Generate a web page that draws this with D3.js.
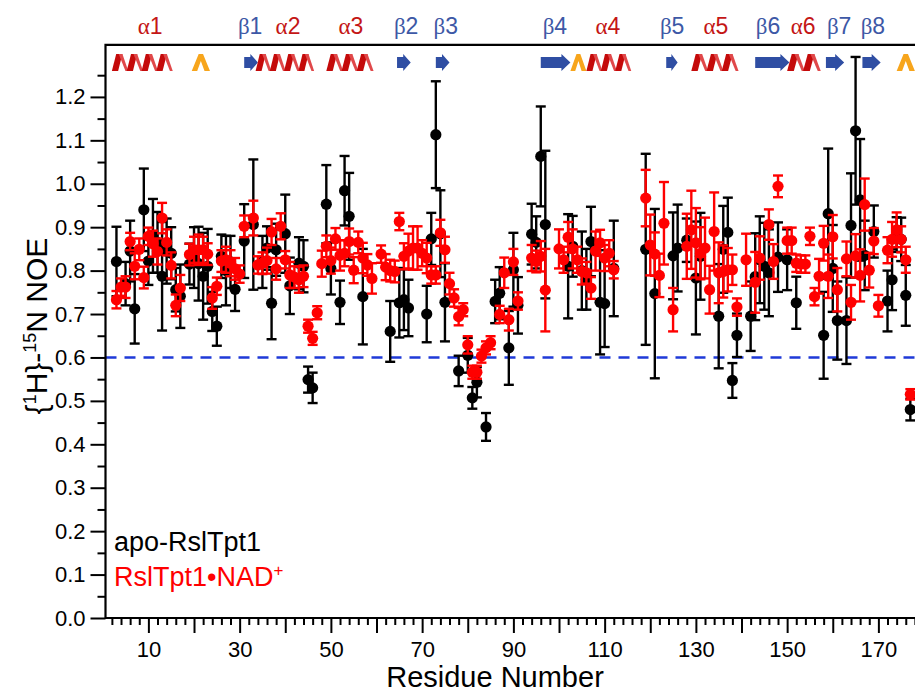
<!DOCTYPE html>
<html>
<head>
<meta charset="utf-8">
<script src="https://cdn.jsdelivr.net/npm/d3@7"></script>
<style>
  body { margin: 0; background: #fff; }
  svg { display: block; }
</style>
</head>
<body>
<svg id="chart" width="915" height="693"></svg>
<script>
// ---- {1H}-15N heteronuclear NOE per residue ----
// apo-RslTpt1
const apoRes = [
  3, 5, 6, 7, 9, 10, 11, 12, 13, 14,
  15, 16, 17, 19, 20, 21, 22, 23, 24, 25,
  26, 27, 28, 29, 31, 33, 35, 36, 37, 38,
  40, 41, 43, 44, 45, 46, 49, 50, 52, 53,
  54, 57, 63, 65, 66, 67, 71, 72, 73, 74,
  75, 78, 80, 81, 82, 84, 86, 87, 89, 90,
  91, 94, 95, 96, 97, 102, 103, 105, 106, 107,
  109, 110, 112, 119, 121, 125, 126, 128, 130, 131,
  135, 136, 137, 138, 139, 142, 143, 144, 145, 146,
  148, 150, 152, 158, 159, 160, 161, 163, 164, 165,
  166, 167, 169, 172, 173, 174, 175, 176, 177
];
const apoNOE = [
  .821, .770, .845, .712, .940, .822, .880, .865, .787, .845,
  .840, .756, .741, .815, .830, .816, .787, .810, .706, .672,
  .833, .800, .820, .757, .868, .906, .820, .852, .725, .848,
  .885, .765, .817, .810, .549, .530, .953, .805, .727, .984,
  .925, .740, .660, .726, .733, .714, .700, .873, 1.113, .885,
  .727, .569, .605, .507, .543, .440, .729, .748, .622, .802,
  .720, .884, .865, 1.063, .906, .810, .856, .800, .780, .867,
  .727, .724, .805, .849, .747, .834, .852, .870, .783, .833,
  .695, .849, .888, .547, .651, .695, .786, .825, .810, .795,
  .831, .825, .726, .651, .931, .805, .685, .685, .904, 1.122,
  .963, .835, .890, .730, .779, .883, .872, .743, .480
];
const apoErr = [
  .080, .050, .070, .080, .095, .055, .085, .070, .125, .075,
  .060, .050, .073, .047, .070, .085, .100, .086, .045, .045,
  .050, .080, .060, .050, .085, .150, .060, .050, .083, .060,
  .090, .065, .060, .060, .030, .035, .090, .060, .050, .080,
  .100, .110, .070, .080, .070, .065, .065, .060, .123, .100,
  .090, .035, .040, .025, .035, .032, .050, .060, .085, .085,
  .065, .070, .060, .115, .170, .120, .070, .090, .070, .080,
  .120, .100, .110, .220, .195, .100, .100, .050, .130, .100,
  .120, .100, .080, .040, .050, .080, .100, .100, .100, .100,
  .080, .070, .060, .100, .150, .100, .090, .100, .120, .170,
  .140, .080, .060, .070, .070, .040, .050, .070, .025
];

// RslTpt1•NAD+
const nadRes = [
  3, 4, 5, 6, 7, 8, 9, 10, 11, 12,
  13, 14, 15, 16, 17, 19, 20, 21, 22, 23,
  24, 25, 26, 27, 28, 29, 30, 31, 33, 34,
  35, 36, 37, 38, 39, 40, 41, 42, 43, 44,
  45, 46, 47, 48, 49, 50, 51, 52, 53, 54,
  55, 56, 57, 58, 59, 61, 62, 63, 64, 65,
  66, 67, 68, 69, 70, 71, 72, 73, 74, 75,
  76, 77, 78, 79, 80, 81, 82, 83, 84, 85,
  87, 88, 89, 90, 91, 94, 95, 96, 97, 100,
  101, 102, 103, 104, 105, 106, 107, 108, 109, 110,
  111, 112, 119, 120, 121, 122, 123, 125, 128, 129,
  130, 131, 132, 133, 134, 135, 136, 137, 138, 139,
  141, 143, 144, 146, 147, 148, 150, 151, 152, 153,
  154, 155, 156, 157, 158, 159, 160, 161, 163, 164,
  165, 166, 167, 168, 169, 170, 172, 173, 174, 175,
  176, 177
];
const nadNOE = [
  .733, .762, .762, .867, .810, .849, .784, .879, .862, .844,
  .921, .865, .812, .720, .760, .837, .848, .848, .848, .838,
  .737, .764, .822, .825, .817, .804, .792, .902, .921, .813,
  .817, .823, .889, .804, .902, .825, .790, .785, .779, .787,
  .672, .644, .703, .816, .856, .823, .873, .835, .840, .867,
  .801, .865, .829, .813, .782, .838, .808, .800, .798, .913,
  .833, .845, .852, .852, .840, .829, .790, .790, .887, .848,
  .770, .737, .694, .710, .629, .566, .566, .603, .622, .634,
  .699, .795, .687, .820, .730, .829, .821, .833, .755, .850,
  .825, .877, .850, .825, .798, .795, .760, .845, .864, .829,
  .840, .802, .967, .859, .838, .789, .909, .710, .856, .894,
  .864, .840, .852, .756, .890, .795, .798, .802, .802, .716,
  .825, .773, .829, .906, .821, .994, .869, .869, .817, .815,
  .815, .879, .740, .787, .863, .787, .878, .756, .827, .727,
  .834, .789, .952, .801, .868, .719, .847, .872, .894, .872,
  .825, .515
];
const nadErr = [
  .020, .020, .025, .020, .030, .025, .025, .020, .030, .030,
  .035, .030, .030, .025, .030, .025, .030, .035, .030, .025,
  .025, .020, .025, .030, .030, .025, .020, .025, .040, .020,
  .025, .030, .030, .025, .030, .020, .030, .025, .030, .025,
  .015, .015, .015, .030, .025, .030, .025, .035, .030, .030,
  .030, .025, .035, .025, .035, .020, .030, .025, .025, .020,
  .030, .040, .050, .050, .030, .035, .020, .020, .030, .030,
  .025, .020, .020, .015, .020, .015, .015, .015, .015, .015,
  .020, .035, .025, .030, .020, .030, .025, .035, .095, .045,
  .030, .035, .045, .030, .030, .025, .025, .045, .030, .030,
  .030, .020, .065, .070, .050, .050, .095, .050, .075, .090,
  .080, .060, .070, .055, .090, .070, .060, .050, .035, .020,
  .060, .070, .050, .035, .040, .025, .030, .030, .020, .020,
  .020, .020, .020, .040, .040, .050, .050, .050, .040, .040,
  .050, .060, .060, .040, .030, .025, .030, .040, .040, .030,
  .030, .012
];

// Secondary structure elements (residue ranges) and their labels
const ssType  = ["helix", "turn", "strand", "helix", "helix", "strand", "strand", "strand",
                 "turn", "helix", "strand", "helix", "strand", "helix", "strand", "strand", "turn"];
const ssStart = [2, 19.5, 31, 33.5, 49, 64.5, 73, 96, 102.5, 106, 123.5, 129, 143, 150, 158.5, 166.5, 174];
const ssEnd   = [15, 23.5, 34, 46, 59, 67.5, 76, 102.5, 106, 115.5, 126, 139, 150.5, 157, 162.5, 170.5, 178];

const ssLabelGreek = ["α", "β", "α", "α", "β", "β", "β", "α", "β", "α", "β", "α", "β", "β"];
const ssLabelNum   = ["1", "1", "2", "3", "2", "3", "4", "4", "5", "5", "6", "6", "7", "8"];
const ssLabelAt    = [10.4, 32.3, 40.6, 54.4, 66.5, 75.2, 99.1, 110.7, 124.8, 134.4, 145.8, 153.5, 161.4, 168.8];

// Axis ticks
const xMajorTicks = d3.range(10, 181, 10);
const xMinorTicks = d3.range(2, 181, 2).filter(d => d % 10 !== 0);
const yMajorTicks = d3.range(0, 13).map(i => i / 10);
const yMinorTicks = d3.range(0, 13).map(i => i / 10 + 0.05);
const threshold = 0.6;

// ---- layout ----
const svg = d3.select("#chart");
const plotLeft = 105.5, plotTop = 44.8, plotBottom = 618;
const font = "'Liberation Sans', Arial, Helvetica, sans-serif";

const x = d3.scaleLinear().domain([0.6, 180.5]).range([plotLeft, plotLeft + 179.9 * 4.5625]);
const y = d3.scaleLinear().domain([0, 1.32]).range([plotBottom, plotTop]);

const COLOR_APO = "#000000";
const COLOR_NAD = "#ff0000";

// threshold line
svg.append("line")
  .attr("x1", plotLeft).attr("x2", x(180.5))
  .attr("y1", y(threshold)).attr("y2", y(threshold))
  .attr("stroke", "#1f3ad8").attr("stroke-width", 2.6)
  .attr("stroke-dasharray", "11,8");

// error bars and points
function drawSeries(res, noe, err, color) {
  const rows = res.map((r, i) => ({ r, v: noe[i], e: err[i] }));
  const g = svg.append("g");
  const bars = g.append("g").attr("stroke", color).attr("stroke-width", 2.4).attr("fill", "none");
  bars.selectAll("line.v").data(rows).join("line").attr("class", "v")
    .attr("x1", d => x(d.r)).attr("x2", d => x(d.r))
    .attr("y1", d => y(d.v - d.e)).attr("y2", d => y(d.v + d.e));
  bars.selectAll("line.t").data(rows).join("line").attr("class", "t")
    .attr("x1", d => x(d.r) - 5).attr("x2", d => x(d.r) + 5)
    .attr("y1", d => y(d.v + d.e)).attr("y2", d => y(d.v + d.e));
  bars.selectAll("line.b").data(rows).join("line").attr("class", "b")
    .attr("x1", d => x(d.r) - 5).attr("x2", d => x(d.r) + 5)
    .attr("y1", d => y(d.v - d.e)).attr("y2", d => y(d.v - d.e));
  g.selectAll("circle").data(rows).join("circle")
    .attr("cx", d => x(d.r)).attr("cy", d => y(d.v)).attr("r", 5.6)
    .attr("fill", color);
}
drawSeries(apoRes, apoNOE, apoErr, COLOR_APO);
drawSeries(nadRes, nadNOE, nadErr, COLOR_NAD);

// axes
function styleAxis(g) {
  g.select(".domain").remove();
  g.selectAll(".tick line").attr("stroke", "#000").attr("stroke-width", 2);
  g.selectAll("text").attr("font-family", font).attr("font-size", 22).attr("fill", "#000");
}
svg.append("g").attr("transform", `translate(${plotLeft},0)`)
  .call(d3.axisLeft(y).tickValues(yMinorTicks).tickSize(8).tickFormat(""))
  .call(styleAxis);
svg.append("g").attr("transform", `translate(${plotLeft},0)`)
  .call(d3.axisLeft(y).tickValues(yMajorTicks).tickSize(15).tickPadding(5).tickFormat(d3.format(".1f")))
  .call(styleAxis);
svg.append("g").attr("transform", `translate(0,${plotBottom})`)
  .call(d3.axisBottom(x).tickValues(xMinorTicks).tickSize(7).tickFormat(""))
  .call(styleAxis);
svg.append("g").attr("transform", `translate(0,${plotBottom})`)
  .call(d3.axisBottom(x).tickValues(xMajorTicks).tickSize(15).tickPadding(8)
    .tickFormat(d => (d % 20 === 10 ? d : "")))
  .call(styleAxis);

// frame (left, top, bottom)
svg.append("path")
  .attr("d", `M${x(180.5)},${plotTop}H${plotLeft}V${plotBottom}H${x(180.5)}`)
  .attr("fill", "none").attr("stroke", "#000").attr("stroke-width", 2.2);

// axis titles
svg.append("text")
  .attr("x", 495).attr("y", 687)
  .attr("text-anchor", "middle")
  .attr("font-family", font).attr("font-size", 29)
  .text("Residue Number");

const yt = svg.append("text")
  .attr("transform", `translate(47,${326}) rotate(-90)`)
  .attr("text-anchor", "middle")
  .attr("font-family", font).attr("font-size", 30);
yt.append("tspan").text("{");
yt.append("tspan").attr("dy", -11).attr("font-size", 18).text("1");
yt.append("tspan").attr("dy", 11).text("H}-");
yt.append("tspan").attr("dy", -11).attr("font-size", 18).text("15");
yt.append("tspan").attr("dy", 11).text("N NOE");

// legend
svg.append("text")
  .attr("x", 114).attr("y", 551)
  .attr("font-family", font).attr("font-size", 27).attr("fill", COLOR_APO)
  .text("apo-RslTpt1");
const lg = svg.append("text")
  .attr("x", 114).attr("y", 586)
  .attr("font-family", font).attr("font-size", 27).attr("fill", COLOR_NAD);
lg.append("tspan").text("RslTpt1•NAD");
lg.append("tspan").attr("dy", -10).attr("font-size", 17).text("+");

// secondary structure glyphs
const ssY0 = 54, ssY1 = 71, ssMid = (ssY0 + ssY1) / 2;
const ss = svg.append("g");
ssType.forEach((t, i) => {
  const x0 = x(ssStart[i]), x1 = x(ssEnd[i]), w = x1 - x0;
  if (t === "helix") {
    const n = Math.max(2, Math.round(w / 15));
    const p = w / n, k = p * 0.42;
    for (let j = 0; j < n; j++) {
      const xs = x0 + j * p;
      ss.append("polygon")
        .attr("points", [[xs, ssY1], [xs + k, ssY1], [xs + p * 0.5 + k * 0.5, ssY0], [xs + p * 0.5 - k * 0.5, ssY0]].join(" "))
        .attr("fill", "#c40a0a");
      ss.append("polygon")
        .attr("points", [[xs + p * 0.5 + k * 0.5, ssY0], [xs + p * 0.5 - k * 0.1, ssY0], [xs + p - k * 0.2, ssY1], [xs + p + k * 0.25, ssY1]].join(" "))
        .attr("fill", "#e0484a");
    }
  } else if (t === "turn") {
    ss.append("polygon")
      .attr("points", [[x0, ssY1], [x0 + w * 0.38, ssY0], [x0 + w * 0.62, ssY0], [x1, ssY1],
                       [x1 - w * 0.3, ssY1], [x0 + w * 0.5, ssY0 + 7], [x0 + w * 0.3, ssY1]].join(" "))
      .attr("fill", "#f7a51c");
  } else {
    const hl = Math.min(9, w * 0.55), bh = 5.5, hh = 8.5;
    ss.append("polygon")
      .attr("points", [[x0, ssMid - bh], [x1 - hl, ssMid - bh], [x1 - hl, ssMid - hh], [x1, ssMid],
                       [x1 - hl, ssMid + hh], [x1 - hl, ssMid + bh], [x0, ssMid + bh]].join(" "))
      .attr("fill", "#2f4ea3");
  }
});

// secondary structure labels
ssLabelAt.forEach((r, i) => {
  const col = ssLabelGreek[i] === "α" ? "#c41616" : "#3d58a6";
  const t = svg.append("text")
    .attr("x", x(r)).attr("y", 34)
    .attr("text-anchor", "middle")
    .attr("font-family", font).attr("font-size", 23).attr("fill", col);
  t.append("tspan").attr("font-family", "'Liberation Serif', 'Times New Roman', serif").text(ssLabelGreek[i]);
  t.append("tspan").text(ssLabelNum[i]);
});
</script>
</body>
</html>
